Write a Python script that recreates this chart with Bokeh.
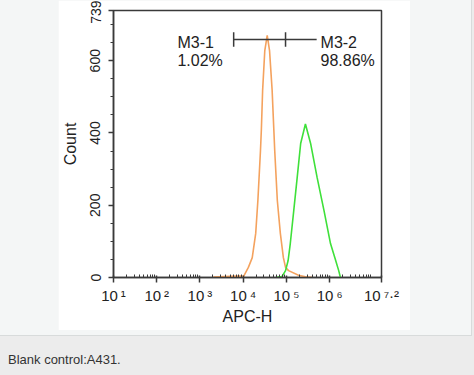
from bokeh.plotting import figure
from bokeh.models import FixedTicker, Label, Div, Spacer, Range1d, ColumnDataSource
from bokeh.layouts import column, row
from bokeh.embed import file_html
from bokeh.resources import INLINE

# ---------------- data ----------------
# histogram of the blank control (orange) : log10(APC-H) and counts
orange_log = [3.31, 3.71, 3.94, 4.01, 4.12, 4.21, 4.29, 4.34, 4.40, 4.42, 4.45, 4.50, 4.556,
              4.61, 4.67, 4.71, 4.73, 4.79, 4.86, 4.93, 4.98, 5.05, 5.28, 5.44, 5.60]
orange_count = [1, 3, 4, 3, 28, 55, 122, 213, 351, 407, 518, 628, 670,
                628, 518, 407, 351, 213, 122, 55, 28, 19, 6, 2, 0]

# histogram of the stained sample (green)
green_log = [4.79, 4.90, 4.98, 5.04, 5.09, 5.17, 5.25, 5.33, 5.44,
             5.56, 5.71, 5.87, 6.02, 6.14, 6.21, 6.25]
green_count = [1, 3, 19, 47, 94, 185, 277, 371, 425,
               371, 277, 185, 94, 47, 19, 0]

# gates
gate_names = ["M3-1", "M3-2"]
gate_pcts = ["1.02%", "98.86%"]
gate_start_log = [3.78, 4.98]
gate_end_log = [4.98, 5.70]
gate_level = 659

# axes
x_tick_exps = [1, 2, 3, 4, 5, 6, 7.2]
x_tick_exp_text = ["1", "2", "3", "4", "5", "6", "7.2"]
y_ticks = [0, 200, 400, 600, 739]
x_label = "APC-H"
y_label = "Count"
caption_text = "Blank control:A431."

# ---------------- style ----------------
FONT = "Liberation Sans"
AX = "#3a3a3a"
TXT = "#222222"
ORANGE = "#f4a25e"
GREEN = "#3fe03a"
SUP = {"0": "\u2070", "1": "\u00b9", "2": "\u00b2", "3": "\u00b3", "4": "\u2074",
       "5": "\u2075", "6": "\u2076", "7": "\u2077", "8": "\u2078", "9": "\u2079", ".": "\u00b7"}

p = figure(width=352, height=330, x_axis_type="log",
           x_range=Range1d(10 ** 1, 10 ** 7.2), y_range=Range1d(0, 739),
           output_backend="svg", toolbar_location=None,
           min_border_left=55, min_border_right=29, min_border_top=10, min_border_bottom=53)
p.xgrid.visible = False
p.ygrid.visible = False
p.outline_line_color = AX
p.outline_line_width = 1.5
p.background_fill_color = "white"
p.border_fill_color = "white"

x_tick_vals = [10 ** e for e in x_tick_exps]
minor_x = [m * 10 ** k for k in range(1, 8) for m in range(2, 10) if m * 10 ** k < 10 ** 7.2]
p.xaxis.ticker = FixedTicker(ticks=x_tick_vals, minor_ticks=minor_x)
p.yaxis.ticker = FixedTicker(ticks=y_ticks, minor_ticks=list(range(50, 739, 50)))
p.xaxis.major_label_overrides = {
    v: "10\u2009" + "".join(SUP[c] for c in s) for v, s in zip(x_tick_vals, x_tick_exp_text)}

for ax in (p.xaxis[0], p.yaxis[0]):
    ax.axis_line_color = AX
    ax.axis_line_width = 1.5
    ax.major_tick_line_color = AX
    ax.major_tick_line_width = 1.5
    ax.minor_tick_line_color = AX
    ax.minor_tick_line_width = 1
    ax.major_label_text_font = FONT
    ax.major_label_text_color = TXT
    ax.major_label_text_font_size = "14px"
    ax.axis_label_text_font = FONT
    ax.axis_label_text_font_style = "normal"
    ax.axis_label_text_color = TXT
    ax.axis_label_text_font_size = "16px"

p.xaxis.major_tick_out = 5
p.xaxis.major_tick_in = 2
p.xaxis.minor_tick_out = 0
p.xaxis.minor_tick_in = 3
p.xaxis.major_label_text_font_size = "15px"
p.xaxis.major_label_standoff = 4
p.xaxis.axis_label = x_label
p.xaxis.axis_label_standoff = 1

p.yaxis.major_tick_out = 5
p.yaxis.major_tick_in = 0
p.yaxis.minor_tick_out = 3
p.yaxis.minor_tick_in = 0
p.yaxis.major_label_orientation = "vertical"
p.yaxis.major_label_standoff = 8
p.yaxis.axis_label = y_label
p.yaxis.axis_label_standoff = 9

# histograms
src_o = ColumnDataSource(dict(x=[10 ** v for v in orange_log], y=orange_count))
src_g = ColumnDataSource(dict(x=[10 ** v for v in green_log], y=green_count))
p.line("x", "y", source=src_o, line_color=ORANGE, line_width=1.6)
p.line("x", "y", source=src_g, line_color=GREEN, line_width=1.6)

# gate bars
gs = ColumnDataSource(dict(x0=[10 ** v for v in gate_start_log], x1=[10 ** v for v in gate_end_log],
                           y=[gate_level] * 2))
p.segment("x0", "y", "x1", "y", source=gs, line_color=AX, line_width=1.5)
ends = sorted(set(gate_start_log + gate_end_log[:-1]))
ts = ColumnDataSource(dict(x=[10 ** v for v in ends], y0=[gate_level - 20] * len(ends),
                           y1=[gate_level + 20] * len(ends)))
p.segment("x", "y0", "x", "y1", source=ts, line_color=AX, line_width=1.5)

# gate labels
label_x = [2.48, 5.79]
for lx, name, pct in zip(label_x, gate_names, gate_pcts):
    p.add_layout(Label(x=10 ** lx, y=gate_level, y_offset=-3, text=name, text_font=FONT,
                       text_font_size="16px", text_color=TXT, text_baseline="alphabetic"))
    p.add_layout(Label(x=10 ** lx, y=gate_level, y_offset=-21, text=pct, text_font=FONT,
                       text_font_size="16px", text_color=TXT, text_baseline="alphabetic"))

panel = column(
    row(Spacer(width=58, height=330), p, Spacer(width=61, height=330)),
    Spacer(width=471, height=5),
    styles={"background-color": "#f4f6f6", "border-right": "1px solid #d8dbdb",
            "border-bottom": "1px solid #d8dbdb"})

caption = Div(text=caption_text, width=474, height=39,
              styles={"font-family": "Liberation Sans, Arial, sans-serif", "font-size": "13px",
                      "color": "#333333", "padding-left": "3px", "padding-top": "11px",
                      "line-height": "15px"})

root = column(panel, caption, styles={"background-color": "#ececec"})

open("out.html", "w").write(file_html(root, INLINE))
